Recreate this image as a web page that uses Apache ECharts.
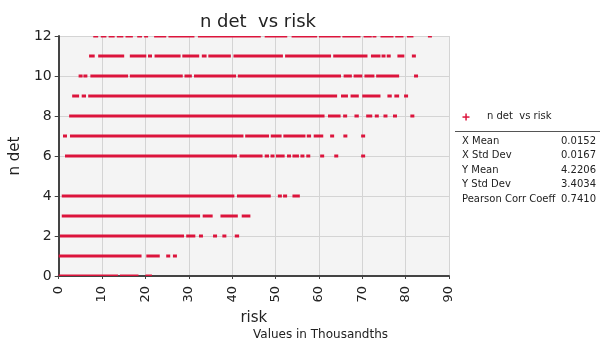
<!DOCTYPE html>
<html>
<head>
<meta charset="utf-8">
<script src="https://cdn.jsdelivr.net/npm/echarts@6/dist/echarts.min.js"></script>
<style>
  html, body { margin: 0; padding: 0; background: #fff; }
  #chart { width: 600px; height: 344px; }
</style>
</head>
<body>
<div id="chart"></div>
<script>
// Observed runs of risk values (in thousandths) for each n det level: [from, to]
const nDet12 = [[7.96,9.1],[9.7,11.0],[11.5,12.9],[13.4,14.9],[15.4,17.1],[18.1,19.2],[19.7,20.6],[22.0,24.8],[25.3,31.3],[32.1,46.6],[47.5,52.7],[53.7,59.6],[60.0,65.0],[65.4,69.6],[70.3,72.2],[72.8,72.8],[74.2,77.2],[77.6,79.5],[80.3,81.8],[85.6,85.6]];
const nDet11 = [[7.0,8.3],[9.1,15.1],[16.4,20.2],[20.6,21.5],[22.1,28.1],[28.5,32.4],[33.0,34.1],[34.5,39.7],[40.3,51.7],[52.2,62.8],[63.3,71.2],[72.0,74.2],[74.5,75.3],[75.7,76.5],[78.1,79.7],[81.5,82.3]];
const nDet10 = [[4.7,5.4],[5.7,6.6],[7.3,16.0],[16.4,28.6],[29.0,30.7],[31.2,40.9],[41.3,65.1],[65.7,67.6],[68.0,70.0],[70.5,72.8],[73.2,78.5],[82.0,82.8]];
const nDet9 = [[3.1,4.7],[5.3,6.3],[6.8,64.2],[65.1,66.7],[67.3,69.2],[70.0,74.2],[75.8,76.8],[77.4,78.5],[79.7,80.5]];
const nDet8 = [[2.4,61.3],[62.1,65.0],[65.6,66.5],[68.2,69.2],[70.9,72.3],[72.9,73.8],[74.9,75.8],[77.1,78.0],[81.1,82.0]];
const nDet7 = [[1.1,1.8],[2.6,42.6],[43.0,48.5],[48.9,51.4],[51.8,56.9],[57.2,58.2],[58.8,61.0],[62.7,63.4],[65.7,66.5],[69.8,70.6]];
const nDet6 = [[1.45,41.1],[41.7,47.0],[47.5,48.5],[48.9,49.7],[50.1,52.1],[52.7,53.5],[53.9,55.4],[55.8,56.6],[57.2,57.9],[60.4,61.1],[63.6,64.4],[69.8,70.6]];
const nDet4 = [[0.7,40.5],[41.1,48.9],[50.6,51.4],[51.8,52.6],[53.9,55.6]];
const nDet3 = [[0.7,32.6],[33.2,35.5],[37.3,41.3],[42.2,44.2]];
const nDet2 = [[0.3,28.9],[29.4,31.5],[32.4,33.2],[35.7,36.4],[37.8,38.6],[40.6,41.6]];
const nDet1 = [[0,19.1],[20.2,23.3],[24.8,25.7],[26.4,27.2]];
const nDet0 = [[0,13.7],[14.1,18.4],[20.0,21.5]];

const levels = [12, 11, 10, 9, 8, 7, 6, 4, 3, 2, 1, 0];
const levelRuns = [nDet12, nDet11, nDet10, nDet9, nDet8, nDet7, nDet6, nDet4, nDet3, nDet2, nDet1, nDet0];

// Summary statistics shown beside the plot
const statLabels = ['X Mean', 'X Std Dev', 'Y Mean', 'Y Std Dev', 'Pearson Corr Coeff'];
const statValues = ['0.0152', '0.0167', '4.2206', '3.4034', '0.7410'];

const seriesName = 'n det  vs risk';
const red = '#dc143c';
const font = 'DejaVu Sans';

const runData = [];
levels.forEach((lv, i) => {
  levelRuns[i].forEach(r => runData.push([r[0], r[1], lv]));
});

// Each run is a dense stretch of "+" markers: a 3px band, at least one marker wide
function renderRun(params, api) {
  const a = api.coord([api.value(0), api.value(2)]);
  const b = api.coord([api.value(1), api.value(2)]);
  let x0 = a[0], w = b[0] - a[0];
  const minW = 4;
  if (w < minW) { x0 = (a[0] + b[0]) / 2 - minW / 2; w = minW; }
  const h = 3;
  const cs = params.coordSys;
  const rect = echarts.graphic.clipRectByRect(
    { x: x0, y: a[1] - h / 2, width: w, height: h },
    { x: cs.x, y: cs.y, width: cs.width, height: cs.height }
  );
  if (!rect) return null;
  return { type: 'rect', shape: rect, style: { fill: red } };
}

const chart = echarts.init(document.getElementById('chart'), null, { renderer: 'canvas' });

const statGraphics = [];
statLabels.forEach((t, i) => {
  const y = 142.3 + i * 14.45;
  statGraphics.push({
    type: 'text', left: 462, top: y - 6,
    style: { text: t, font: '10px "' + font + '"', fill: '#222' }
  });
  statGraphics.push({
    type: 'text', right: 4, top: y - 6,
    style: { text: statValues[i], font: '10px "' + font + '"', fill: '#222', textAlign: 'right' }
  });
});

chart.setOption({
  animation: false,
  backgroundColor: '#fff',
  title: {
    text: seriesName,
    left: 253, top: 8, textAlign: 'center',
    textStyle: { fontFamily: font, fontSize: 18, fontWeight: 'normal', color: '#222' }
  },
  grid: { left: 57, right: 151, top: 36, bottom: 68, show: true, backgroundColor: '#f4f4f4', borderWidth: 0 },
  xAxis: {
    type: 'value', min: 0, max: 90, interval: 10,
    name: 'risk', nameLocation: 'middle', nameGap: 35,
    nameTextStyle: { fontFamily: font, fontSize: 15, color: '#222' },
    axisLine: { show: true, onZero: false, lineStyle: { color: '#444', width: 2 } },
    axisTick: { show: true, length: 3, lineStyle: { color: '#444' } },
    axisLabel: { rotate: 90, margin: 10, fontFamily: font, fontSize: 13, color: '#222' },
    splitLine: { show: true, lineStyle: { color: '#d4d4d4', width: 1 } }
  },
  yAxis: {
    type: 'value', min: 0, max: 12, interval: 2,
    name: 'n det', nameLocation: 'middle', nameGap: 34, nameRotate: 90,
    nameTextStyle: { fontFamily: font, fontSize: 15, color: '#222' },
    axisLine: { show: true, onZero: false, lineStyle: { color: '#444', width: 2 } },
    axisTick: { show: true, length: 4, lineStyle: { color: '#444' } },
    axisLabel: { margin: 7, fontFamily: font, fontSize: 14, color: '#222' },
    splitLine: { show: true, lineStyle: { color: '#d4d4d4', width: 1 } }
  },
  graphic: [
    {
      type: 'text', left: 253, top: 329,
      style: { text: 'Values in Thousandths', font: '12px "' + font + '"', fill: '#222', textAlign: 'center' }
    },
    // legend entry: plus marker and series name
    { type: 'rect', left: 462.5, top: 116.3, shape: { width: 7, height: 1.5 }, style: { fill: red } },
    { type: 'rect', left: 465.3, top: 113.5, shape: { width: 1.5, height: 7 }, style: { fill: red } },
    {
      type: 'text', left: 487, top: 111,
      style: { text: seriesName, font: '10px "' + font + '"', fill: '#222' }
    },
    { type: 'rect', left: 455, top: 131, shape: { width: 145, height: 1 }, style: { fill: '#555' } },
    ...statGraphics
  ],
  series: [{
    name: seriesName,
    type: 'custom',
    renderItem: renderRun,
    itemStyle: { color: red },
    encode: { x: [0, 1], y: 2 },
    data: runData,
    z: 3
  }]
});
</script>
</body>
</html>
